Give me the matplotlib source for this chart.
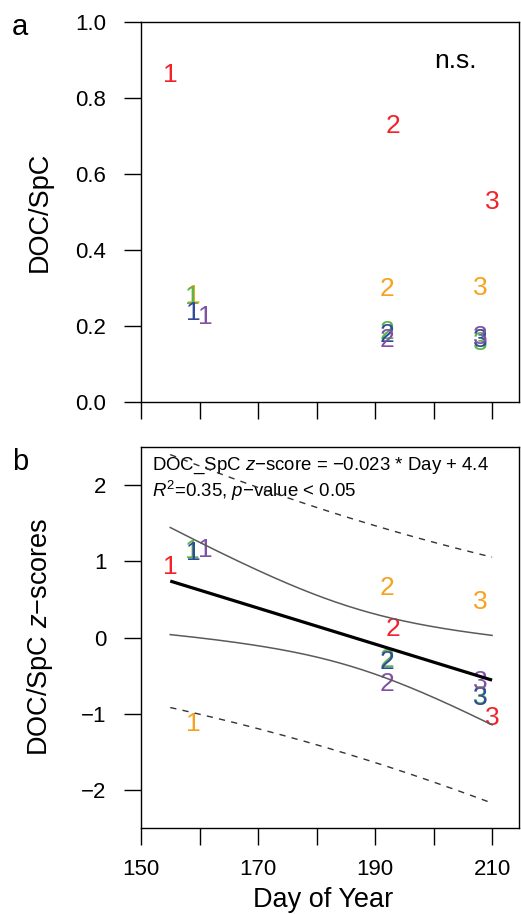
import numpy as np
import matplotlib
matplotlib.use("Agg")
import matplotlib.pyplot as plt

plt.rcParams['font.family'] = ['Liberation Sans', 'DejaVu Sans']
plt.rcParams['mathtext.fontset'] = 'custom'
plt.rcParams['mathtext.rm'] = 'Liberation Sans'
plt.rcParams['mathtext.it'] = 'Liberation Sans:italic'

# ---- data ----
occasion_labels = ['1', '2', '3']
site_colors = ['#F2222B', '#F7A21E', '#5DB648', '#2F4C9B', '#8152A4']

red_day = [155, 193, 210]
orange_day = [159, 192, 208]
green_day = [158.8, 192, 208]
blue_day = [159, 192, 208]
purple_day = [161, 192, 208]

red_ratio = [0.86, 0.726, 0.526]
orange_ratio = [0.279, 0.297, 0.300]
green_ratio = [0.276, 0.184, 0.155]
blue_ratio = [0.234, 0.176, 0.163]
purple_ratio = [0.224, 0.163, 0.171]

red_z = [0.93, 0.11, -1.06]
orange_z = [-1.13, 0.65, 0.47]
green_z = [1.14, -0.30, -0.78]
blue_z = [1.11, -0.32, -0.80]
purple_z = [1.15, -0.61, -0.58]

t_crit = 2.160  # t(0.975, df=13)

xticks = [150, 160, 170, 180, 190, 200, 210]
xticklabels = ['150', '', '170', '', '190', '', '210']
yticks_a = [0.0, 0.2, 0.4, 0.6, 0.8, 1.0]
yticks_b = [-2, -1, 0, 1, 2]

all_days = [red_day, orange_day, green_day, blue_day, purple_day]
all_ratio = [red_ratio, orange_ratio, green_ratio, blue_ratio, purple_ratio]
all_z = [red_z, orange_z, green_z, blue_z, purple_z]

W, H = 521, 914
fig = plt.figure(figsize=(W / 100, H / 100), dpi=100)

def ax_rect(l, t, r, b):
    return [l / W, 1 - b / H, (r - l) / W, (b - t) / H]

axa = fig.add_axes(ax_rect(141, 22, 519, 402))
axb = fig.add_axes(ax_rect(141, 447, 519, 828))

tick_fs = 16
pt_fs = 19
for ax in (axa, axb):
    ax.set_xlim(150, 214.6)
    ax.set_xticks(xticks)
    ax.tick_params(axis='both', direction='out', length=12, width=1.0,
                   labelsize=tick_fs, colors='black')
    ax.tick_params(axis='y', pad=13)
    ax.tick_params(axis='x', pad=10)
    for s in ax.spines.values():
        s.set_linewidth(1.0)
        s.set_color('black')

# panel a
axa.set_ylim(0, 1)
axa.set_yticks(yticks_a)
axa.set_yticklabels(['%.1f' % v for v in yticks_a])
axa.set_xticklabels([''] * len(xticks))
for days, vals, col in zip(all_days, all_ratio, site_colors):
    for d, v, lab in zip(days, vals, occasion_labels):
        axa.text(d, v, lab, color=col, fontsize=pt_fs, ha='center', va='center', zorder=3)
axa.text(0.831, 0.897, 'n.s.', transform=axa.transAxes, fontsize=19,
         ha='center', va='center')

# panel b
axb.set_ylim(-2.5, 2.5)
axb.set_yticks(yticks_b)
axb.set_yticklabels([str(v).replace('-', '\u2212') for v in yticks_b])
axb.set_xticklabels(xticklabels)
for days, vals, col in zip(all_days, all_z, site_colors):
    for d, v, lab in zip(days, vals, occasion_labels):
        axb.text(d, v, lab, color=col, fontsize=pt_fs, ha='center', va='center', zorder=3)

# regression with confidence and prediction intervals
x = np.concatenate([np.asarray(d, float) for d in all_days])
y = np.concatenate([np.asarray(v, float) for v in all_z])
n = len(x)
slope, intercept = np.polyfit(x, y, 1)
resid = y - (slope * x + intercept)
s = np.sqrt(np.sum(resid ** 2) / (n - 2))
xm = x.mean()
sxx = np.sum((x - xm) ** 2)
xg = np.linspace(x.min(), x.max(), 200)
yg = slope * xg + intercept
ci = t_crit * s * np.sqrt(1 / n + (xg - xm) ** 2 / sxx)
pi = t_crit * s * np.sqrt(1 + 1 / n + (xg - xm) ** 2 / sxx)
axb.plot(xg, yg, color='black', lw=2.3, zorder=4, solid_capstyle='butt')
axb.plot(xg, yg + ci, color='#5a5a5a', lw=1.1, zorder=4)
axb.plot(xg, yg - ci, color='#5a5a5a', lw=1.1, zorder=4)
axb.plot(xg, yg + pi, color='#333333', lw=1.0, ls=(0, (4.5, 4.5)), zorder=4)
axb.plot(xg, yg - pi, color='#333333', lw=1.0, ls=(0, (4.5, 4.5)), zorder=4)

axb.text(0.029, 0.950, 'DOC_SpC $z$\u2212score = \u22120.023 * Day + 4.4',
         transform=axb.transAxes, fontsize=13.4, ha='left', va='center')
axb.text(0.029, 0.884, '$R^2$=0.35, $p$\u2212value < 0.05',
         transform=axb.transAxes, fontsize=13.4, ha='left', va='center')

# labels
fig.text(40 / W, 1 - 212 / H, 'DOC/SpC', rotation=90, ha='center', va='center', fontsize=19.5)
fig.text(40 / W, 1 - 637 / H, 'DOC/SpC $z$\u2212scores', rotation=90, ha='center', va='center', fontsize=19.5)
fig.text(323.5 / W, 1 - 900 / H, 'Day of Year', ha='center', va='center', fontsize=19.5)
fig.text(20 / W, 1 - 27 / H, 'a', ha='center', va='center', fontsize=21)
fig.text(20 / W, 1 - 462 / H, 'b', ha='center', va='center', fontsize=21)

fig.savefig('out.png', dpi=100)
